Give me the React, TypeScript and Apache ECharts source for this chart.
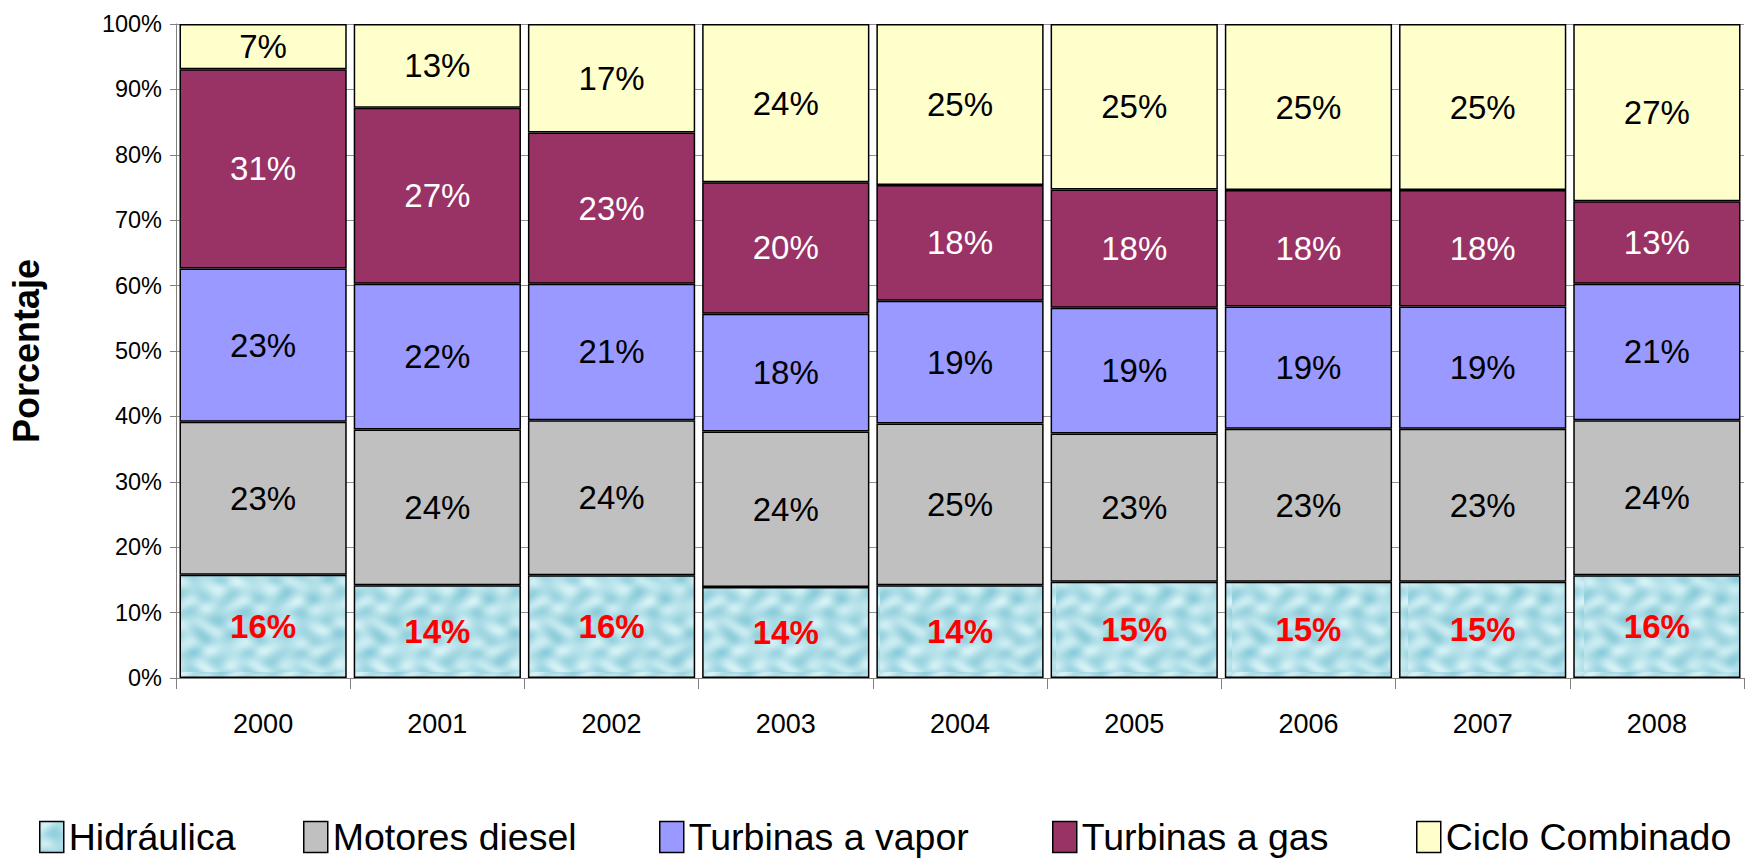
import React, { useEffect, useRef } from "react";
import * as echarts from "echarts";

const years = ["2000", "2001", "2002", "2003", "2004", "2005", "2006", "2007", "2008"];
const hidraulica = [15.8, 14.2, 15.7, 13.9, 14.2, 14.7, 14.7, 14.7, 15.7];
const motoresDiesel = [23.4, 23.8, 23.7, 23.8, 24.7, 22.7, 23.4, 23.4, 23.7];
const turbinasVapor = [23.4, 22.3, 20.9, 18.0, 18.8, 19.2, 18.7, 18.7, 20.9];
const turbinasGas = [30.5, 26.9, 23.1, 20.1, 17.7, 18.1, 17.8, 17.8, 12.6];
const cicloCombinado = [6.9, 12.8, 16.6, 24.2, 24.6, 25.3, 25.4, 25.4, 27.1];
const seriesNames = ["Hidráulica", "Motores diesel", "Turbinas a vapor", "Turbinas a gas", "Ciclo Combinado"];

const FONT = "'Liberation Sans', Arial, Helvetica, sans-serif";

// Decorative water-like texture for the "Hidráulica" fill (style only, not data)
function makeTexture(): string {
  const W = 176;
  const H = 112;
  const c = document.createElement("canvas");
  c.width = W;
  c.height = H;
  const g = c.getContext("2d");
  if (!g) return "";
  const img = g.createImageData(W, H);
  const light = [214, 242, 246];
  const dark = [140, 204, 218];
  for (let y = 0; y < H; y++) {
    for (let x = 0; x < W; x++) {
      const a = Math.sin(x * 0.23 + 1.8 * Math.sin(y * 0.14));
      const b = Math.sin(y * 0.31 + 1.4 * Math.sin(x * 0.12));
      const d = Math.sin((x + y) * 0.09 + 2.1 * Math.sin(x * 0.05));
      let v = 0.5 + 0.2 * a + 0.2 * b + 0.1 * d;
      v = Math.min(1, Math.max(0, v));
      const i = (y * W + x) * 4;
      img.data[i] = dark[0] + (light[0] - dark[0]) * v;
      img.data[i + 1] = dark[1] + (light[1] - dark[1]) * v;
      img.data[i + 2] = dark[2] + (light[2] - dark[2]) * v;
      img.data[i + 3] = 255;
    }
  }
  g.putImageData(img, 0, 0);
  return c.toDataURL();
}

export default function App() {
  const ref = useRef<HTMLDivElement>(null);
  useEffect(() => {
    if (!ref.current) return;
    const chart = echarts.init(ref.current, undefined, { renderer: "svg" });
    const tex = makeTexture();
    const hydroColor: any = tex
      ? { image: tex, repeat: "repeat", imageWidth: 176, imageHeight: 112 }
      : "#B9E4EC";
    const colors: any[] = [hydroColor, "#C0C0C0", "#9999FF", "#993366", "#FFFFCC"];
    const datas = [hidraulica, motoresDiesel, turbinasVapor, turbinasGas, cicloCombinado];
    const labelStyles = [
      { color: "#FF0000", fontWeight: "bold" },
      { color: "#000000", fontWeight: "normal" },
      { color: "#000000", fontWeight: "normal" },
      { color: "#FFFFFF", fontWeight: "normal" },
      { color: "#000000", fontWeight: "normal" },
    ];
    const legendLefts = [39, 303, 659, 1052, 1416];

    const series = seriesNames.map((name, i) => ({
      name,
      type: "bar",
      stack: "total",
      data: datas[i],
      barCategoryGap: "4%",
      itemStyle: { color: colors[i], borderColor: "#000000", borderWidth: 1.5 },
      label: {
        show: true,
        position: "inside",
        formatter: (p: any) => `${Math.round(p.value)}%`,
        fontSize: 33,
        fontFamily: FONT,
        color: labelStyles[i].color,
        fontWeight: labelStyles[i].fontWeight,
      },
    }));

    const legends = seriesNames.map((name, i) => ({
      data: [name],
      left: legendLefts[i],
      top: 818,
      itemWidth: 24,
      itemHeight: 31,
      itemGap: 0,
      selectedMode: false,
      icon: "rect",
      padding: 0,
      textStyle: { fontSize: 37.5, fontFamily: FONT, color: "#000000" },
      itemStyle: { borderColor: "#000000", borderWidth: 1.5 },
    }));

    chart.setOption({
      animation: false,
      backgroundColor: "#FFFFFF",
      grid: { left: 172, right: 1, top: 24, bottom: 184, containLabel: false },
      legend: legends,
      xAxis: {
        type: "category",
        data: years,
        axisLine: { show: true, lineStyle: { color: "#808080", width: 1 } },
        axisTick: { show: true, length: 11, lineStyle: { color: "#808080" } },
        axisLabel: { fontSize: 27, fontFamily: FONT, color: "#000000", margin: 32 },
      },
      yAxis: {
        type: "value",
        min: 0,
        max: 100,
        interval: 10,
        name: "Porcentaje",
        nameLocation: "middle",
        nameGap: 132,
        nameTextStyle: { fontSize: 36, fontWeight: "bold", fontFamily: FONT, color: "#000000" },
        axisLine: { show: true, lineStyle: { color: "#808080", width: 1 } },
        axisTick: { show: true, length: 6, lineStyle: { color: "#808080" } },
        axisLabel: { formatter: "{value}%", fontSize: 23.5, fontFamily: FONT, color: "#000000", margin: 14 },
        splitLine: { show: true, lineStyle: { color: "#909090", width: 1 } },
      },
      series,
    });
    return () => chart.dispose();
  }, []);
  return (
    <div
      ref={ref}
      style={{ position: "fixed", left: 0, top: 0, width: 1745, height: 862, background: "#fff" }}
    />
  );
}
